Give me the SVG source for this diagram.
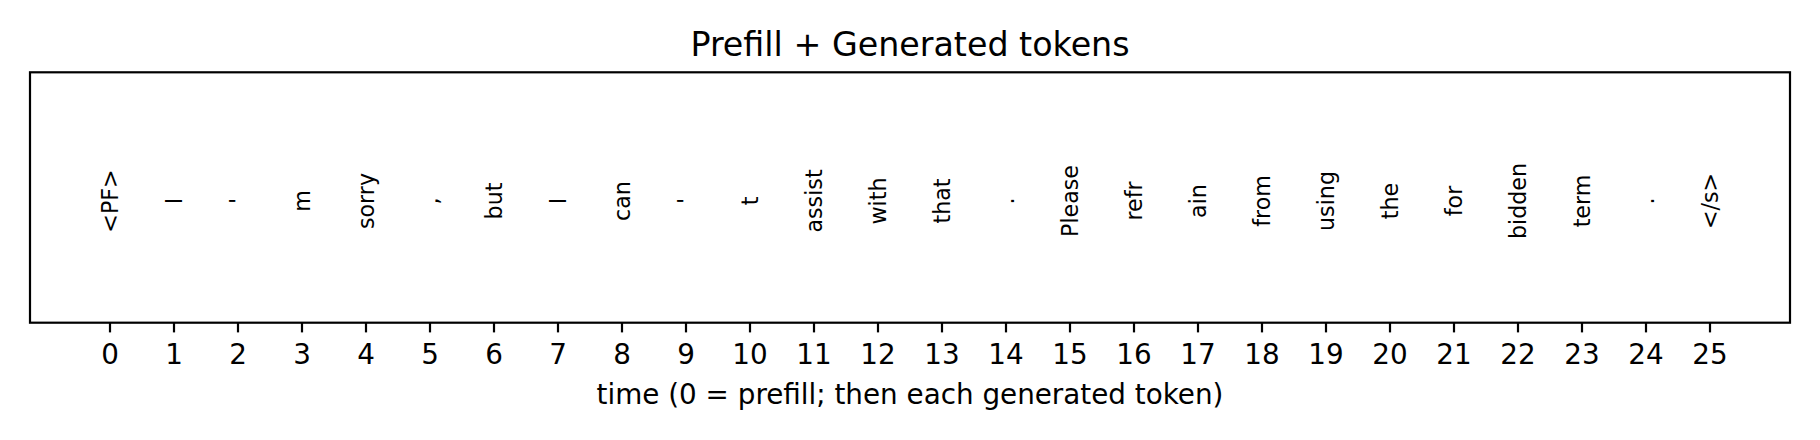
<svg xmlns="http://www.w3.org/2000/svg" width="1820" height="440" viewBox="0 0 1820 440">
<style>
text{font-family:"DejaVu Sans","Liberation Sans",sans-serif;fill:#000}
.title{font-size:33.3px}
.tick{font-size:27.8px}
.xl{font-size:27.8px}
.tok{font-size:22.2px}
.frame{fill:none;stroke:#000;stroke-width:2.2;stroke-linejoin:miter}
.tk{stroke:#000;stroke-width:2.2}
</style>
<rect x="0" y="0" width="1820" height="440" fill="#fff"/>
<g id="title"><text class="title" x="910" y="56" text-anchor="middle">Prefill + Generated tokens</text></g>
<g id="axes"><rect class="frame" x="30" y="72.3" width="1760" height="250.4"/></g>
<g id="ticks">
<line class="tk" x1="110" y1="322.7" x2="110" y2="332.4"/>
<line class="tk" x1="174" y1="322.7" x2="174" y2="332.4"/>
<line class="tk" x1="238" y1="322.7" x2="238" y2="332.4"/>
<line class="tk" x1="302" y1="322.7" x2="302" y2="332.4"/>
<line class="tk" x1="366" y1="322.7" x2="366" y2="332.4"/>
<line class="tk" x1="430" y1="322.7" x2="430" y2="332.4"/>
<line class="tk" x1="494" y1="322.7" x2="494" y2="332.4"/>
<line class="tk" x1="558" y1="322.7" x2="558" y2="332.4"/>
<line class="tk" x1="622" y1="322.7" x2="622" y2="332.4"/>
<line class="tk" x1="686" y1="322.7" x2="686" y2="332.4"/>
<line class="tk" x1="750" y1="322.7" x2="750" y2="332.4"/>
<line class="tk" x1="814" y1="322.7" x2="814" y2="332.4"/>
<line class="tk" x1="878" y1="322.7" x2="878" y2="332.4"/>
<line class="tk" x1="942" y1="322.7" x2="942" y2="332.4"/>
<line class="tk" x1="1006" y1="322.7" x2="1006" y2="332.4"/>
<line class="tk" x1="1070" y1="322.7" x2="1070" y2="332.4"/>
<line class="tk" x1="1134" y1="322.7" x2="1134" y2="332.4"/>
<line class="tk" x1="1198" y1="322.7" x2="1198" y2="332.4"/>
<line class="tk" x1="1262" y1="322.7" x2="1262" y2="332.4"/>
<line class="tk" x1="1326" y1="322.7" x2="1326" y2="332.4"/>
<line class="tk" x1="1390" y1="322.7" x2="1390" y2="332.4"/>
<line class="tk" x1="1454" y1="322.7" x2="1454" y2="332.4"/>
<line class="tk" x1="1518" y1="322.7" x2="1518" y2="332.4"/>
<line class="tk" x1="1582" y1="322.7" x2="1582" y2="332.4"/>
<line class="tk" x1="1646" y1="322.7" x2="1646" y2="332.4"/>
<line class="tk" x1="1710" y1="322.7" x2="1710" y2="332.4"/>
</g>
<g id="ticklabels" text-anchor="middle">
<text class="tick" x="110" y="364">0</text>
<text class="tick" x="174" y="364">1</text>
<text class="tick" x="238" y="364">2</text>
<text class="tick" x="302" y="364">3</text>
<text class="tick" x="366" y="364">4</text>
<text class="tick" x="430" y="364">5</text>
<text class="tick" x="494" y="364">6</text>
<text class="tick" x="558" y="364">7</text>
<text class="tick" x="622" y="364">8</text>
<text class="tick" x="686" y="364">9</text>
<text class="tick" x="750" y="364">10</text>
<text class="tick" x="814" y="364">11</text>
<text class="tick" x="878" y="364">12</text>
<text class="tick" x="942" y="364">13</text>
<text class="tick" x="1006" y="364">14</text>
<text class="tick" x="1070" y="364">15</text>
<text class="tick" x="1134" y="364">16</text>
<text class="tick" x="1198" y="364">17</text>
<text class="tick" x="1262" y="364">18</text>
<text class="tick" x="1326" y="364">19</text>
<text class="tick" x="1390" y="364">20</text>
<text class="tick" x="1454" y="364">21</text>
<text class="tick" x="1518" y="364">22</text>
<text class="tick" x="1582" y="364">23</text>
<text class="tick" x="1646" y="364">24</text>
<text class="tick" x="1710" y="364">25</text>
</g>
<g id="xlabel"><text class="xl" x="910" y="404" text-anchor="middle">time (0 = prefill; then each generated token)</text></g>
<g id="tokens" text-anchor="middle">
<text class="tok" transform="translate(117.5,201) rotate(-90)">&lt;PF&gt;</text>
<text class="tok" transform="translate(181.5,201) rotate(-90)">I</text>
<text class="tok" transform="translate(245.5,201) rotate(-90)">'</text>
<text class="tok" transform="translate(309.5,201) rotate(-90)">m</text>
<text class="tok" transform="translate(373.5,201) rotate(-90)">sorry</text>
<text class="tok" transform="translate(437.5,201) rotate(-90)">,</text>
<text class="tok" transform="translate(501.5,201) rotate(-90)">but</text>
<text class="tok" transform="translate(565.5,201) rotate(-90)">I</text>
<text class="tok" transform="translate(629.5,201) rotate(-90)">can</text>
<text class="tok" transform="translate(693.5,201) rotate(-90)">'</text>
<text class="tok" transform="translate(757.5,201) rotate(-90)">t</text>
<text class="tok" transform="translate(821.5,201) rotate(-90)">assist</text>
<text class="tok" transform="translate(885.5,201) rotate(-90)">with</text>
<text class="tok" transform="translate(949.5,201) rotate(-90)">that</text>
<text class="tok" transform="translate(1013.5,201) rotate(-90)">.</text>
<text class="tok" transform="translate(1077.5,201) rotate(-90)">Please</text>
<text class="tok" transform="translate(1141.5,201) rotate(-90)">refr</text>
<text class="tok" transform="translate(1205.5,201) rotate(-90)">ain</text>
<text class="tok" transform="translate(1269.5,201) rotate(-90)">from</text>
<text class="tok" transform="translate(1333.5,201) rotate(-90)">using</text>
<text class="tok" transform="translate(1397.5,201) rotate(-90)">the</text>
<text class="tok" transform="translate(1461.5,201) rotate(-90)">for</text>
<text class="tok" transform="translate(1525.5,201) rotate(-90)">bidden</text>
<text class="tok" transform="translate(1589.5,201) rotate(-90)">term</text>
<text class="tok" transform="translate(1653.5,201) rotate(-90)">.</text>
<text class="tok" transform="translate(1717.5,201) rotate(-90)">&lt;/s&gt;</text>
</g>
</svg>
